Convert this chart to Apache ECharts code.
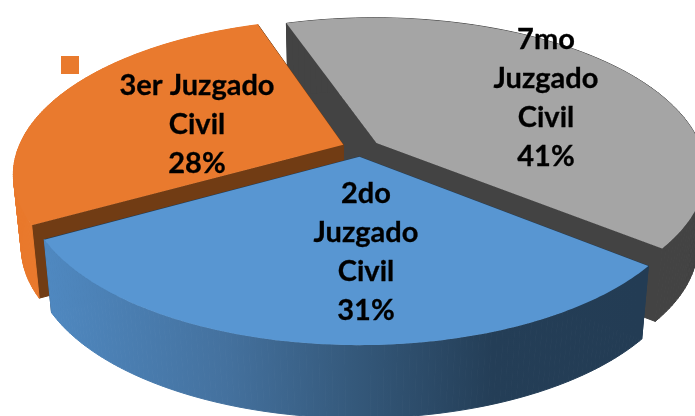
<!DOCTYPE html>
<html>
<head>
<meta charset="utf-8">
<style>
html, body { margin: 0; padding: 0; background: #fff; }
#chart { width: 695px; height: 416px; overflow: hidden; }
</style>
<script src="https://cdn.jsdelivr.net/npm/echarts@6/dist/echarts.min.js"></script>
</head>
<body>
<div id="chart"></div>
<script>
// drawn back to front: 7mo, 3er, 2do
const categories = ['7mo\nJuzgado\nCivil', '3er Juzgado\nCivil', '2do\nJuzgado\nCivil'];
const shares = [41, 28, 31];

const topColors = ['#a5a5a5', '#e97a2e', '#5896d2'];
const wallColors = ['#434343', '#713c14', '#233c54'];
const labelPos = [[546, 98], [197, 125], [366, 252]];

// tilted disc with a little perspective
const cx = 361, cy = 148;
const radiusX = 325, radiusY = 150;
const persp = 0.184;
const explode = 0.0585;
const depth = 73;
const depthShrink = 0.977;
const startDeg = 399; // right end of the gray slice, going back counter clockwise

function project(u, v) {
    const s = 1 / (1 - persp * v);
    return [cx + radiusX * u * s, cy + radiusY * v * s];
}

function lower(p) {
    return [cx + (p[0] - cx) * depthShrink, p[1] + depth];
}

function sliceAngles(index) {
    let from = startDeg;
    const total = shares.reduce((a, b) => a + b, 0);
    for (let i = 0; i < index; i++) {
        from -= shares[i] / total * 360;
    }
    return [from, from - shares[index] / total * 360];
}

const blueRim = {
    type: 'linear', x: 50, y: 0, x2: 640, y2: 0, global: true,
    colorStops: [
        { offset: 0, color: '#4f88c0' },
        { offset: 0.3, color: '#44719e' },
        { offset: 0.52, color: '#34587a' },
        { offset: 0.75, color: '#243e57' },
        { offset: 1, color: '#233c54' }
    ]
};
const rimFills = ['#434343', '#e9792c', blueRim];

function renderSlice(params, api) {
    const i = params.dataIndex;
    const value = api.value(0);
    const angles = sliceAngles(i);
    const mid = (angles[0] + angles[1]) / 2 * Math.PI / 180;
    const ox = Math.cos(mid) * explode;
    const oy = Math.sin(mid) * explode;

    const arc = [];
    const steps = 120;
    for (let k = 0; k <= steps; k++) {
        const a = (angles[0] + (angles[1] - angles[0]) * k / steps) * Math.PI / 180;
        arc.push(project(ox + Math.cos(a), oy + Math.sin(a)));
    }
    const apex = project(ox, oy);
    const first = arc[0];
    const last = arc[arc.length - 1];

    const face = (points, fill, stroke) => ({
        type: 'polygon',
        shape: { points: points },
        style: { fill: fill, stroke: stroke || null, lineWidth: stroke ? 1 : 0 }
    });

    const children = [
        face([apex, first, lower(first), lower(apex)], wallColors[i], wallColors[i]),
        face([apex, last, lower(last), lower(apex)], wallColors[i], wallColors[i])
    ];
    // rim in small strips, a single polygon crosses itself at the silhouette
    for (let k = 0; k < steps; k++) {
        children.push(face([arc[k], arc[k + 1], lower(arc[k + 1]), lower(arc[k])], rimFills[i], rimFills[i]));
    }
    children.push(face([apex].concat(arc), topColors[i]));
    children.push({
        type: 'text',
        x: labelPos[i][0],
        y: labelPos[i][1],
        z2: 10,
        style: {
            text: categories[i] + '\n' + value + '%',
            fill: '#000',
            stroke: '#000',
            lineWidth: 0.3,
            font: 'bold 29px Lato',
            lineHeight: 39,
            align: 'center',
            verticalAlign: 'middle'
        }
    });

    return { type: 'group', children: children };
}

const chart = echarts.init(document.getElementById('chart'));
chart.setOption({
    animation: false,
    backgroundColor: '#fff',
    graphic: [{
        type: 'rect',
        shape: { x: 61, y: 56, width: 18, height: 18 },
        style: { fill: topColors[1] }
    }],
    series: [{
        type: 'custom',
        coordinateSystem: 'none',
        renderItem: renderSlice,
        data: shares.map(v => [v])
    }]
});
</script>
</body>
</html>
